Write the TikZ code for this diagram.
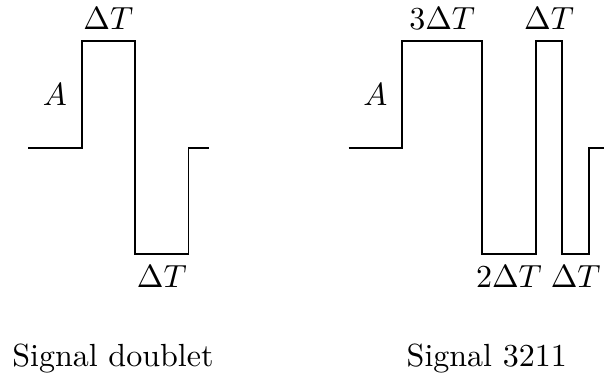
\documentclass[tikz,border=0pt]{standalone}
\usepackage{amsmath}
\tikzset{
    signal/.style={semithick},
    legende/.style={anchor=base},
  }
\begin{document}
\begin{tikzpicture}[x=0.293cm,y=0.293cm]
	%cadre de la figure
	\useasboundingbox (-1.06,-8.66) rectangle (21.56,5.53);
	%signal doublet : amplitude 4, creneau 2
	\coordinate (D0) at (0,0);
	\coordinate (D1) at (2,0);
	\coordinate (D2) at (2,4);
	\coordinate (D3) at (4,4);
	\coordinate (D4) at (4,-4);
	\coordinate (D5) at (6,-4);
	\coordinate (D6) at (6,0);
	\coordinate (D7) at (6.76,0);
	\draw[signal] (D0) -- (D1) -- (D2) -- node[above](dTdh){$\Delta T$} (D3) -- (D4) -- node[below](dTdb){$\Delta T$} (D5) -- (D6) -- (D7);
	\node (Ad) at (1,2) {$A$};
	\node[legende] (legD) at (3.17,-8.19) {Signal doublet};
	%signal 3211 : creneaux 3, 2, 1, 1
	\coordinate (S0) at (12,0);
	\coordinate (S1) at (14,0);
	\coordinate (S2) at (14,4);
	\coordinate (S3) at (17,4);
	\coordinate (S4) at (17,-4);
	\coordinate (S5) at (19,-4);
	\coordinate (S6) at (19,4);
	\coordinate (S7) at (20,4);
	\coordinate (S8) at (20,-4);
	\coordinate (S9) at (21,-4);
	\coordinate (S10) at (21,0);
	\coordinate (S11) at (21.56,0);
	\draw[signal] (S0) -- (S1) -- (S2) -- node[above](dTs3){$3\Delta T$} (S3) -- (S4) -- node[below](dTs2){$2\Delta T$} (S5) -- (S6) -- node[above](dTs1){$\Delta T$} (S7) -- (S8) -- node[below](dTs1b){$\Delta T$} (S9) -- (S10) -- (S11);
	\node (As) at (13,2) {$A$};
	\node[legende] (legS) at (17.17,-8.19) {Signal 3211};
\end{tikzpicture}
\end{document}
